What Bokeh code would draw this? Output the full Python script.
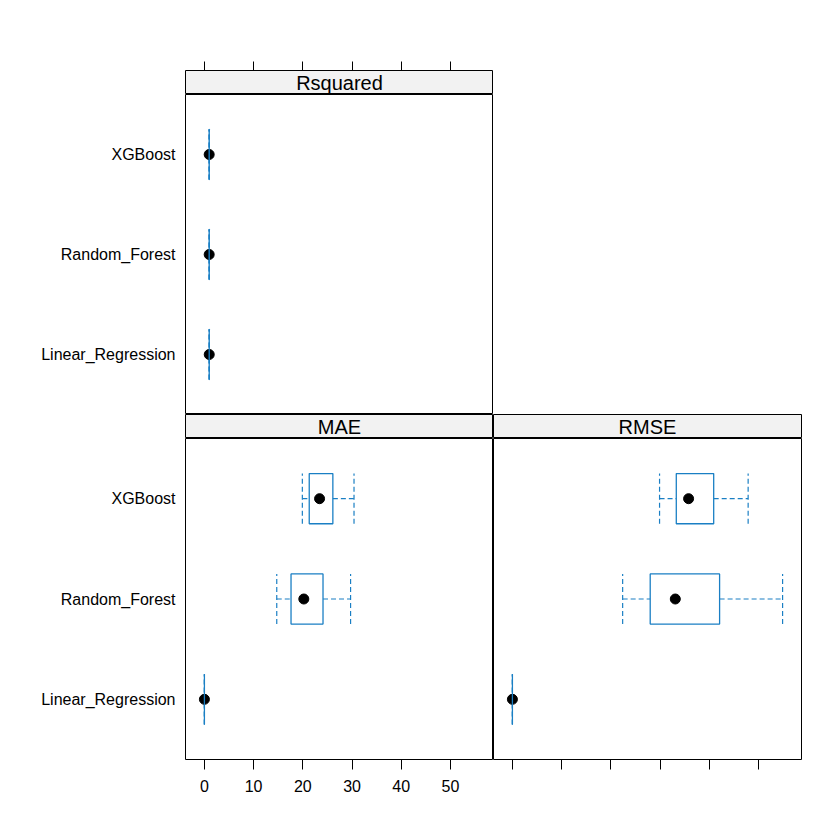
from bokeh.plotting import figure
from bokeh.models import Range1d, FixedTicker, LinearAxis, Label, ColumnDataSource
from bokeh.layouts import column, row
from bokeh.embed import file_html
from bokeh.resources import INLINE

# ---- data ----
models = ["Linear_Regression", "Random_Forest", "XGBoost"]
x_ticks = [0, 10, 20, 30, 40, 50]

# five-number summaries: min, q1, median, q3, max
rsq_min = [0.96, 0.95, 0.95]
rsq_q1 = [0.97, 0.96, 0.96]
rsq_med = [0.98, 0.97, 0.97]
rsq_q3 = [0.98, 0.98, 0.98]
rsq_max = [0.99, 0.99, 0.99]

mae_min = [0.0, 14.7, 19.9]
mae_q1 = [0.0, 17.6, 21.3]
mae_med = [0.0, 20.2, 23.4]
mae_q3 = [0.0, 24.1, 26.1]
mae_max = [0.0, 29.7, 30.4]

rmse_min = [0.0, 22.4, 29.9]
rmse_q1 = [0.0, 28.0, 33.3]
rmse_med = [0.0, 33.1, 35.8]
rmse_q3 = [0.0, 42.1, 40.9]
rmse_max = [0.0, 54.9, 47.9]

# ---- styling ----
FONT = "Liberation Sans"
BLUE = "#1a7fc4"
BOX_RATIO = 0.5

all_vals = rsq_min + rsq_max + mae_min + mae_max + rmse_min + rmse_max
lo, hi = min(all_vals), max(all_vals)
pad = 0.07 * (hi - lo)
XR = Range1d(lo - pad, hi + pad)
YPOS = [i + 1 for i in range(len(models))]


def base_fig(fh, left, bottom, top, right, bg="white", yr=None):
    p = figure(frame_width=308, frame_height=fh, x_range=XR,
               y_range=yr if yr is not None else Range1d(0.4, len(models) + 0.6),
               x_axis_location=None, y_axis_location=None,
               toolbar_location=None, output_backend="svg",
               min_border_left=left, min_border_right=right,
               min_border_top=top, min_border_bottom=bottom)
    p.background_fill_color = bg
    p.border_fill_color = "white"
    p.outline_line_color = "black"
    p.outline_line_width = 1
    p.grid.visible = False
    return p


def x_axis(show_labels, tick_out=10):
    ax = LinearAxis(ticker=FixedTicker(ticks=x_ticks),
                    major_tick_out=tick_out, major_tick_in=0,
                    minor_tick_line_color=None, axis_line_color=None,
                    major_tick_line_color="black",
                    major_label_standoff=10,
                    major_label_text_font=FONT,
                    major_label_text_font_size="16px",
                    major_label_text_color="black")
    if not show_labels:
        ax.major_label_overrides = {t: "" for t in x_ticks}
    return ax


def y_axis():
    ax = LinearAxis(ticker=FixedTicker(ticks=YPOS),
                    major_label_overrides={y: m for y, m in zip(YPOS, models)},
                    major_tick_out=0, major_tick_in=0,
                    minor_tick_line_color=None, axis_line_color=None,
                    major_tick_line_color=None,
                    major_label_standoff=10,
                    major_label_text_font=FONT,
                    major_label_text_font_size="16px",
                    major_label_text_color="black")
    return ax


def draw_boxes(p, mn, q1, med, q3, mx):
    h = BOX_RATIO / 2
    src = ColumnDataSource(dict(y=YPOS, mn=mn, q1=q1, med=med, q3=q3, mx=mx,
                                ylo=[y - h for y in YPOS], yhi=[y + h for y in YPOS]))
    # whiskers
    p.segment(x0="mn", y0="y", x1="q1", y1="y", source=src,
              line_color=BLUE, line_width=1.2, line_dash="5 3")
    p.segment(x0="q3", y0="y", x1="mx", y1="y", source=src,
              line_color=BLUE, line_width=1.2, line_dash="5 3")
    # caps
    p.segment(x0="mn", y0="ylo", x1="mn", y1="yhi", source=src,
              line_color=BLUE, line_width=1.2, line_dash="5 3")
    p.segment(x0="mx", y0="ylo", x1="mx", y1="yhi", source=src,
              line_color=BLUE, line_width=1.2, line_dash="5 3")
    # median dot
    p.scatter(x="med", y="y", source=src, size=10, marker="circle",
              fill_color="black", line_color="black")
    # box
    p.hbar(y="y", left="q1", right="q3", height=BOX_RATIO, source=src,
           fill_color=None, line_color=BLUE, line_width=1.3)


def strip(name, left, top, right):
    s = base_fig(24, left, 0, top, right, bg="#f2f2f2", yr=Range1d(0, 1))
    s.add_layout(Label(x=(XR.start + XR.end) / 2, y=0.5, text=name,
                       text_align="center", text_baseline="middle",
                       text_font=FONT, text_font_size="20px", text_color="black"))
    return s


LEFT = 185
# top-left: Rsquared
s_rsq = strip("Rsquared", LEFT, 70, 0)
s_rsq.add_layout(x_axis(False, tick_out=9), "above")
p_rsq = base_fig(320, LEFT, 0, 0, 0)
p_rsq.add_layout(y_axis(), "left")
draw_boxes(p_rsq, rsq_min, rsq_q1, rsq_med, rsq_q3, rsq_max)

# bottom-left: MAE
s_mae = strip("MAE", LEFT, 0, 0)
p_mae = base_fig(321, LEFT, 60, 0, 0)
p_mae.add_layout(y_axis(), "left")
p_mae.add_layout(x_axis(True), "below")
draw_boxes(p_mae, mae_min, mae_q1, mae_med, mae_q3, mae_max)

# bottom-right: RMSE
s_rmse = strip("RMSE", 0, 0, 10)
p_rmse = base_fig(321, 0, 60, 0, 10)
p_rmse.add_layout(x_axis(False), "below")
draw_boxes(p_rmse, rmse_min, rmse_q1, rmse_med, rmse_q3, rmse_max)

layout = column(s_rsq, p_rsq, row(s_mae, s_rmse), row(p_mae, p_rmse))

open("out.html", "w").write(file_html(layout, INLINE))
